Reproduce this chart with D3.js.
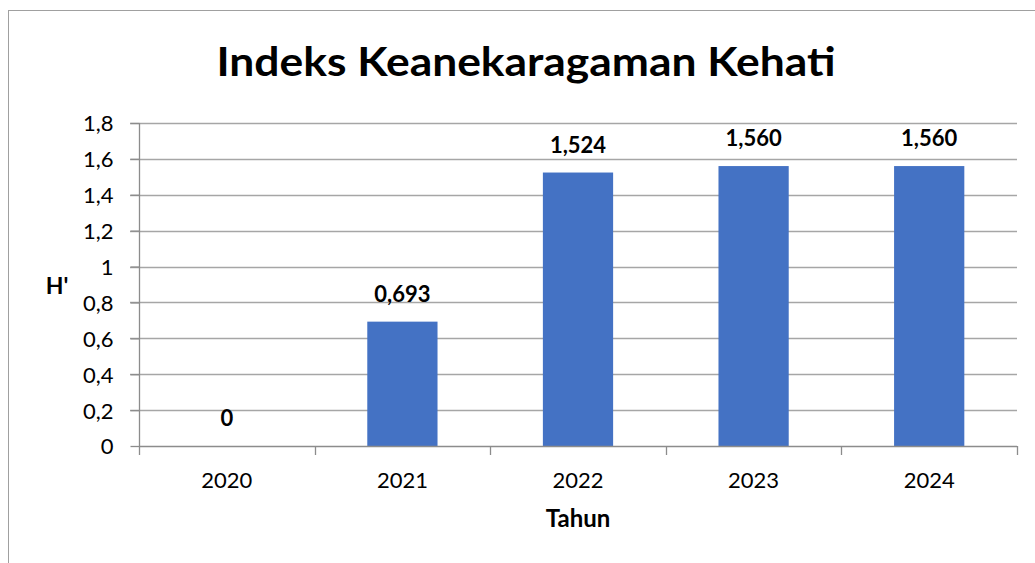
<!DOCTYPE html>
<html>
<head>
<meta charset="utf-8">
<script src="https://cdn.jsdelivr.net/npm/d3@7"></script>
<style>
  html, body { margin: 0; padding: 0; background: #fff; }
  svg { display: block; font-family: Lato, "Open Sans", sans-serif; }
</style>
</head>
<body>
<script>
const categories = ["2020", "2021", "2022", "2023", "2024"];
const values = [0, 0.693, 1.524, 1.560, 1.560];
const valueLabels = ["0", "0,693", "1,524", "1,560", "1,560"];
const yTicks = [0, 0.2, 0.4, 0.6, 0.8, 1, 1.2, 1.4, 1.6, 1.8];
const yTickLabels = ["0", "0,2", "0,4", "0,6", "0,8", "1", "1,2", "1,4", "1,6", "1,8"];
const titleText = "Indeks Keanekaragaman Kehati";
const xTitle = "Tahun";
const yTitle = "H'";

const W = 1035, H = 563;
const plot = { left: 139, right: 1017, top: 123, bottom: 446 };

const svg = d3.select("body").append("svg").attr("width", W).attr("height", H);

// outer chart border
svg.append("rect")
  .attr("x", 8.5).attr("y", 10.5)
  .attr("width", 1040).attr("height", 560)
  .attr("fill", "none").attr("stroke", "#a0a0a0").attr("stroke-width", 1);

const x = d3.scaleBand().domain(categories)
  .range([plot.left, plot.right]).paddingInner(0.6).paddingOuter(0.3);
const xOuter = d3.scaleBand().domain(categories)
  .range([plot.left, plot.right]).padding(0);
const y = d3.scaleLinear().domain([0, 1.8]).range([plot.bottom, plot.top]);

// gridlines
svg.append("g").selectAll("line").data(yTicks.filter(d => d > 0)).join("line")
  .attr("x1", plot.left - 9).attr("x2", plot.right)
  .attr("y1", d => Math.round(y(d)) + 0.5).attr("y2", d => Math.round(y(d)) + 0.5)
  .attr("stroke", "#a6a6a6").attr("stroke-width", 1.3);

// y axis
const yAxis = d3.axisLeft(y).tickValues(yTicks)
  .tickFormat((d, i) => yTickLabels[i]).tickSize(9).tickPadding(17);
const gy = svg.append("g").attr("transform", `translate(${plot.left + 0.5},0)`).call(yAxis);
gy.select(".domain").attr("stroke", "#8c8c8c").attr("stroke-width", 1.3)
  .attr("d", `M0,${plot.top}V${plot.bottom}`);
gy.selectAll(".tick line").attr("stroke", "#8c8c8c").attr("stroke-width", 1.3);
gy.selectAll(".tick text").attr("font-size", 22).attr("fill", "#000")
  .attr("font-family", "Lato, sans-serif").attr("dy", "0.36em");

// bars
svg.append("g").selectAll("rect").data(values).join("rect")
  .attr("x", (d, i) => x(categories[i]))
  .attr("width", x.bandwidth())
  .attr("y", d => y(d))
  .attr("height", d => y(0) - y(d))
  .attr("fill", "#4472c4");

// x axis
const xAxis = d3.axisBottom(xOuter).tickSize(0).tickPadding(22);
const gx = svg.append("g").attr("transform", `translate(0,${plot.bottom + 0.5})`).call(xAxis);
gx.select(".domain").attr("stroke", "#8c8c8c").attr("stroke-width", 1.3)
  .attr("d", `M${plot.left},0H${plot.right}`);
gx.selectAll(".tick text").attr("font-size", 22).attr("fill", "#000")
  .attr("font-family", "Lato, sans-serif").attr("y", 41.5).attr("dy", 0);
// category boundary ticks
const bounds = categories.map(c => xOuter(c)).concat([plot.right]);
svg.append("g").selectAll("line").data(bounds).join("line")
  .attr("x1", d => Math.round(d) + 0.5).attr("x2", d => Math.round(d) + 0.5)
  .attr("y1", plot.bottom).attr("y2", plot.bottom + 9)
  .attr("stroke", "#8c8c8c").attr("stroke-width", 1.3);

// data labels
svg.append("g").selectAll("text").data(values).join("text")
  .attr("x", (d, i) => x(categories[i]) + x.bandwidth() / 2)
  .attr("y", d => y(d) - 20)
  .attr("text-anchor", "middle")
  .attr("font-size", 22).attr("font-weight", "bold").attr("fill", "#000")
  .text((d, i) => valueLabels[i]);

// title
svg.append("text")
  .attr("x", 526).attr("y", 76)
  .attr("text-anchor", "middle")
  .attr("font-size", 40).attr("font-weight", "bold").attr("fill", "#000")
  .attr("textLength", 619).attr("lengthAdjust", "spacingAndGlyphs")
  .text(titleText);

// axis titles
svg.append("text")
  .attr("x", (plot.left + plot.right) / 2).attr("y", 527)
  .attr("text-anchor", "middle")
  .attr("font-size", 24).attr("font-weight", "bold").attr("fill", "#000")
  .text(xTitle);

svg.append("text")
  .attr("x", 57).attr("y", 294)
  .attr("text-anchor", "middle")
  .attr("font-size", 23).attr("font-weight", "bold").attr("fill", "#000")
  .text(yTitle);
</script>
</body>
</html>
